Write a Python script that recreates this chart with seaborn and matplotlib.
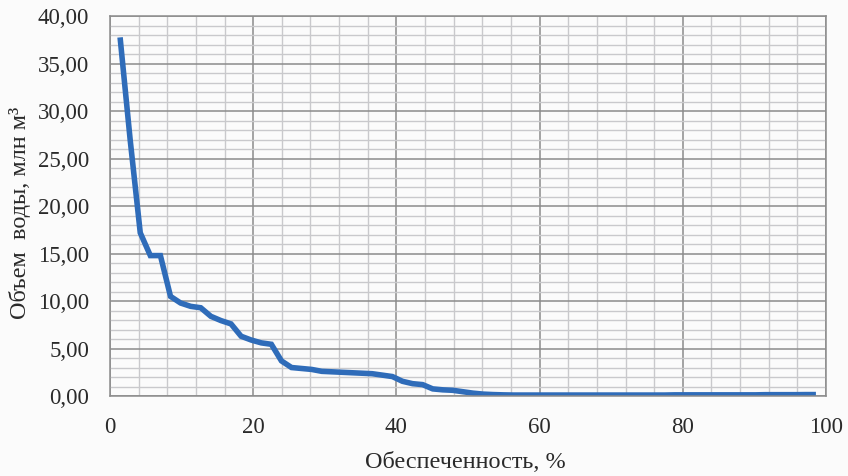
import numpy as np
import pandas as pd
import matplotlib
matplotlib.use("Agg")
import matplotlib.pyplot as plt
import seaborn as sns
from matplotlib.ticker import MultipleLocator, FuncFormatter

# Data
volume = [
    37.8, 27.0, 17.2, 14.8, 14.8, 10.5, 9.8, 9.45, 9.3, 8.4,
    7.95, 7.6, 6.3, 5.9, 5.6, 5.45, 3.7, 3.0, 2.9, 2.8,
    2.6, 2.55, 2.5, 2.45, 2.4, 2.35, 2.2, 2.05, 1.55, 1.3,
    1.2, 0.75, 0.65, 0.6, 0.45, 0.3, 0.2, 0.15, 0.12, 0.1,
    0.1, 0.1, 0.1, 0.1, 0.1, 0.1, 0.1, 0.1, 0.1, 0.1,
    0.1, 0.1, 0.1, 0.1, 0.1, 0.12, 0.12, 0.12, 0.12, 0.12,
    0.12, 0.12, 0.12, 0.12, 0.14, 0.14, 0.14, 0.14, 0.15, 0.15,
]
n = len(volume)
probability = [100.0 * (m + 1) / (n + 1) for m in range(n)]

x_ticks = [0, 20, 40, 60, 80, 100]
y_ticks = [0, 5, 10, 15, 20, 25, 30, 35, 40]
x_label = "Обеспеченность, %"
y_label = "Объем  воды, млн м³"

df = pd.DataFrame({"p": probability, "v": volume})

sns.set_theme(style="white")
plt.rcParams["font.family"] = ["Liberation Serif", "DejaVu Serif"]

fig = plt.figure(figsize=(8.48, 4.76), dpi=100)
fig.patch.set_facecolor("#fbfbfb")
ax = fig.add_axes([110 / 848, 80 / 476, 716 / 848, 379.5 / 476])
ax.set_facecolor("#fbfbfb")

ax.set_xlim(0, 100)
ax.set_ylim(0, 40)
ax.xaxis.set_major_locator(MultipleLocator(20))
ax.xaxis.set_minor_locator(MultipleLocator(4))
ax.yaxis.set_major_locator(MultipleLocator(5))
ax.yaxis.set_minor_locator(MultipleLocator(1))
ax.grid(which="minor", color="#c9c9cc", linewidth=1.0)
ax.grid(which="major", color="#8c8c8c", linewidth=1.1)
ax.set_axisbelow(True)

sns.lineplot(data=df, x="p", y="v", ax=ax, color="#2f6cb9", linewidth=4.0,
             solid_joinstyle="miter", solid_capstyle="butt")

ax.set_xticks(x_ticks)
ax.set_yticks(y_ticks)
ax.yaxis.set_major_formatter(FuncFormatter(lambda v, p: f"{v:.2f}".replace(".", ",")))
ax.tick_params(axis="both", which="both", length=0, labelsize=16.5, colors="#2a2a2a")
ax.tick_params(axis="x", pad=15)
ax.tick_params(axis="y", pad=15)

for s in ax.spines.values():
    s.set_color("#8c8c8c")
    s.set_linewidth(1.1)

ax.set_xlabel(x_label, fontsize=17.5, color="#2a2a2a")
ax.set_ylabel(y_label, fontsize=17.5, color="#2a2a2a")
ax.xaxis.set_label_coords((465 - 110) / 716, (396 - 463) / 379.5)
ax.yaxis.set_label_coords((20 - 110) / 716, (396 - 213) / 379.5)
ax.xaxis.label.set_va("center")
ax.yaxis.label.set_va("center")

fig.savefig("out.png", dpi=100, facecolor=fig.get_facecolor())
